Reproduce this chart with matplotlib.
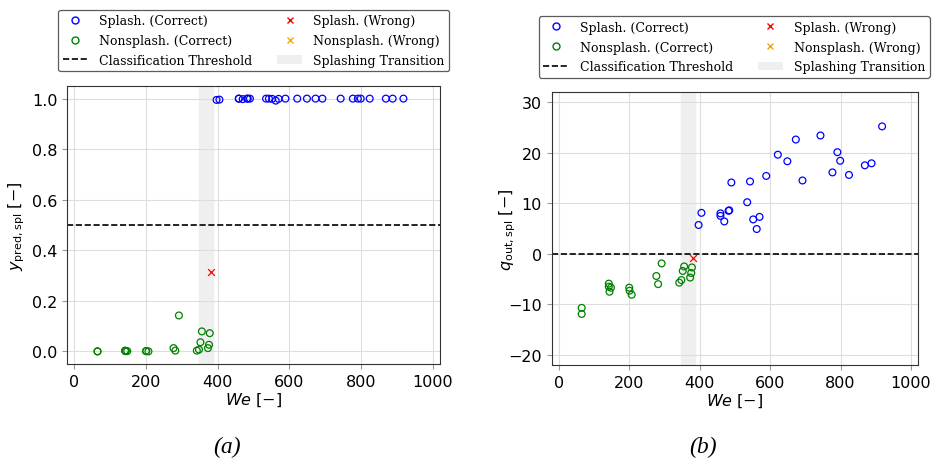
import numpy as np
import matplotlib
matplotlib.use('Agg')
from matplotlib import pyplot as plt
from matplotlib.patches import Patch
from matplotlib.lines import Line2D

# splashing, correctly classified
we_spl = [918, 743, 673, 622, 649, 791, 799, 777, 824, 869, 888, 692, 589,
          543, 490, 535, 484, 482, 459, 459, 470, 405, 397, 552, 570, 562]
q_spl = [25.2, 23.4, 22.6, 19.6, 18.3, 20.1, 18.4, 16.1, 15.6, 17.5, 17.9, 14.5, 15.4,
         14.3, 14.1, 10.2, 8.6, 8.5, 8.0, 7.5, 6.4, 8.1, 5.7, 6.8, 7.3, 4.9]
y_spl = [1.0, 1.0, 1.0, 1.0, 1.0, 1.0, 1.0, 1.0, 1.0, 1.0, 1.0, 1.0, 1.0,
         1.0, 1.0, 1.0, 1.0, 1.0, 1.0, 1.0, 0.998, 0.996, 0.995, 0.999, 0.999, 0.992]

# nonsplashing, correctly classified
we_non = [65, 65, 142, 142, 148, 144, 200, 201, 207, 277, 282, 292,
          342, 348, 352, 356, 373, 376, 378]
q_non = [-10.7, -11.9, -5.9, -6.5, -6.7, -7.5, -6.7, -7.3, -8.1, -4.4, -6.0, -1.9,
         -5.7, -5.2, -3.4, -2.5, -4.7, -3.8, -2.7]
y_non = [0.0, 0.0, 0.003, 0.002, 0.001, 0.001, 0.001, 0.001, 0.0, 0.013, 0.003, 0.142,
         0.003, 0.007, 0.036, 0.079, 0.013, 0.026, 0.072]

# misclassified
we_spl_wrong = [382]
q_spl_wrong = [-0.9]
y_spl_wrong = [0.316]
we_non_wrong = []
q_non_wrong = []
y_non_wrong = []

transition = (348, 387)

fig = plt.figure(figsize=(9.32, 4.6), dpi=100)
ax1 = fig.add_axes([0.0719, 0.2065, 0.4002, 0.6044])
ax2 = fig.add_axes([0.592, 0.2043, 0.393, 0.5935])

def draw(ax, ys, yw_s, yw_n, thr, ylabel, ylim, labx):
    ax.axvspan(*transition, color='#efefef', zorder=0)
    ax.scatter(we_spl, ys, s=24, facecolors='none', edgecolors='blue', linewidths=0.9, zorder=3)
    ax.scatter(we_non, yw_n[0], s=24, facecolors='none', edgecolors='green', linewidths=0.9, zorder=3)
    ax.scatter(we_spl_wrong, yw_s, s=24, marker='x', color='red', linewidths=0.9, zorder=3)
    ax.scatter(we_non_wrong, yw_n[1], s=24, marker='x', color='orange', linewidths=0.9, zorder=3)
    ax.axhline(thr, color='black', ls='--', lw=1.2, zorder=2)
    ax.set_xlim(-20, 1020)
    ax.set_ylim(*ylim)
    ax.grid(True, color='#dddddd', lw=0.8, zorder=0)
    ax.set_axisbelow(True)
    for s in ax.spines.values():
        s.set_color('#333333')
    ax.tick_params(labelsize=11.5, color='#999999', length=3.5)
    ax.set_xlabel(r'$We$ $[-]$', fontsize=11.5, labelpad=1)
    ax.set_ylabel(ylabel, fontsize=11.5)
    ax.yaxis.set_label_coords(labx, 0.5)

draw(ax1, y_spl, y_spl_wrong, (y_non, y_non_wrong), 0.5,
     r'$y_{\mathrm{pred,spl}}$ $[-]$', (-0.05, 1.05), -0.107)
ax1.set_xticks([0, 200, 400, 600, 800, 1000])
ax1.set_yticks([0.0, 0.2, 0.4, 0.6, 0.8, 1.0])

draw(ax2, q_spl, q_spl_wrong, (q_non, q_non_wrong), 0.0,
     r'$q_{\mathrm{out,spl}}$ $[-]$', (-22, 32), -0.092)
ax2.set_xticks([0, 200, 400, 600, 800, 1000])
ax2.set_yticks([-20, -10, 0, 10, 20, 30])

handles = [
    Line2D([], [], ls='none', marker='o', mfc='none', mec='blue', ms=5),
    Line2D([], [], ls='none', marker='o', mfc='none', mec='green', ms=5),
    Line2D([], [], color='black', ls='--', lw=1.2),
    Line2D([], [], ls='none', marker='x', color='red', ms=5),
    Line2D([], [], ls='none', marker='x', color='orange', ms=5),
    Patch(facecolor='#efefef', edgecolor='none'),
]
labels = ['Splash. (Correct)', 'Nonsplash. (Correct)', 'Classification Threshold',
          'Splash. (Wrong)', 'Nonsplash. (Wrong)', 'Splashing Transition']

for cx, top in [(0.2722, 0.9767), (0.788, 0.9624)]:
    leg = fig.legend(handles, labels, ncol=2, loc='upper center', bbox_to_anchor=(cx, top),
                     prop={'family': 'DejaVu Serif', 'size': 9}, frameon=True,
                     fancybox=True, borderpad=0.35, labelspacing=0.55, columnspacing=2.0,
                     handlelength=2.0, handletextpad=0.9, borderaxespad=0)
    leg.get_frame().set_edgecolor('#333333')
    leg.get_frame().set_linewidth(0.9)

fig.text(227 / 932, 1 - 447 / 460, '(a)', family='Liberation Serif', style='italic',
         fontsize=17, ha='center', va='center')
fig.text(703 / 932, 1 - 447 / 460, '(b)', family='Liberation Serif', style='italic',
         fontsize=17, ha='center', va='center')

fig.savefig('out.png', dpi=100)
